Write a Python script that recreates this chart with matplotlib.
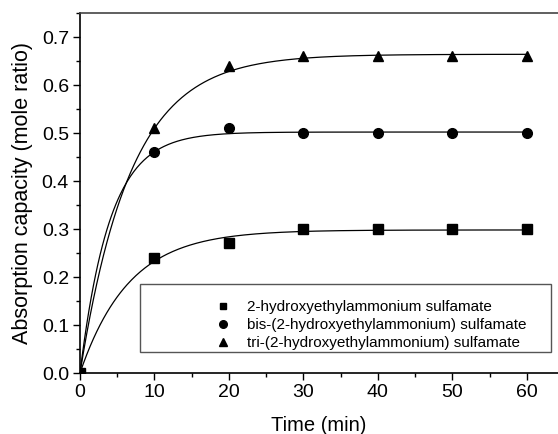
import numpy as np
import matplotlib
matplotlib.use("Agg")
import matplotlib.pyplot as plt
from matplotlib.ticker import MultipleLocator
from matplotlib.patches import Rectangle

plt.rcParams['font.family'] = ['Liberation Sans', 'DejaVu Sans']

time = [0, 10, 20, 30, 40, 50, 60]
mono = [0.0, 0.24, 0.27, 0.30, 0.30, 0.30, 0.30]
bis = [0.0, 0.46, 0.51, 0.50, 0.50, 0.50, 0.50]
tri = [0.0, 0.51, 0.64, 0.66, 0.66, 0.66, 0.66]

labels = ["2-hydroxyethylammonium sulfamate",
          "bis-(2-hydroxyethylammonium) sulfamate",
          "tri-(2-hydroxyethylammonium) sulfamate"]
markers = ["s", "o", "^"]

# fitted model parameters y = A*(1-exp(-k t))
fit_A = [0.298, 0.502, 0.664]
fit_k = [0.152, 0.25, 0.146]

W, H = 558, 434
fig = plt.figure(figsize=(W/100, H/100), dpi=100)
ax = fig.add_axes([80/W, 61/H, 1 - 80/W, (373-13)/H])

tt = np.linspace(0, 60, 400)
series = [mono, bis, tri]
handles = []
for y, m, lab, A, k in zip(series, markers, labels, fit_A, fit_k):
    ax.plot(tt, A*(1-np.exp(-k*tt)), color='black', lw=0.9)
    ax.plot(time, y, linestyle='none', marker=m, color='black',
            ms=7 if m != 's' else 6.5)
    h, = ax.plot([], [], linestyle='none', marker=m, color='black', ms=5.5 if m != 's' else 5, label=lab)
    handles.append(h)

ax.set_xlim(0, 64.2)
ax.set_ylim(0, 0.75)
ax.xaxis.set_major_locator(MultipleLocator(10))
ax.xaxis.set_minor_locator(MultipleLocator(5))
ax.yaxis.set_major_locator(MultipleLocator(0.1))
ax.yaxis.set_minor_locator(MultipleLocator(0.05))
ax.tick_params(which='major', direction='out', length=5, width=1, labelsize=14, pad=3)
ax.tick_params(which='minor', direction='out', length=3, width=1)
ax.set_xticks([0, 10, 20, 30, 40, 50, 60])
ax.set_yticks([0, 0.1, 0.2, 0.3, 0.4, 0.5, 0.6, 0.7])
ax.set_yticklabels(["%.1f" % v for v in [0, 0.1, 0.2, 0.3, 0.4, 0.5, 0.6, 0.7]])
ax.spines['right'].set_visible(False)
ax.spines['top'].set_color('#444444')
for s in ['left', 'bottom', 'top']:
    ax.spines[s].set_linewidth(1.2)

ax.set_xlabel("Time (min)", fontsize=14.5, labelpad=11)
ax.set_ylabel("Absorption capacity (mole ratio)", fontsize=15.5, labelpad=6)

leg = fig.legend(handles=handles, loc='upper left', bbox_to_anchor=(215/W, 1 - 300/H),
                 fontsize=11, frameon=False, borderpad=0, labelspacing=0.27,
                 handletextpad=1.1, handlelength=1.0, borderaxespad=0)
fig.add_artist(Rectangle((140/W, 1 - 352/H), (551-140)/W, (352-284)/H, transform=fig.transFigure,
                         fill=False, edgecolor='#555555', lw=1.0))

fig.savefig("out.png", dpi=100)
